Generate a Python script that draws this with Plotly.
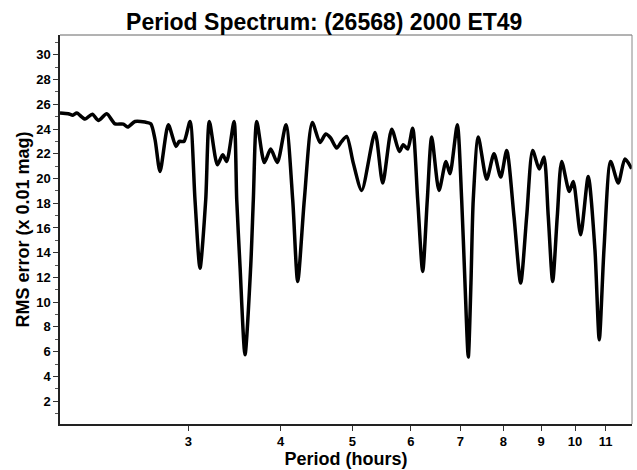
import plotly.graph_objects as go
import numpy as np

# Period (hours) and RMS error (x 0.01 mag)
period = [2.012, 2.065, 2.094, 2.120, 2.175, 2.225, 2.267, 2.327, 2.388, 2.450,
          2.484, 2.541, 2.621, 2.669, 2.705, 2.747, 2.819, 2.887, 2.917, 2.960,
          3.016, 3.063, 3.111, 3.167, 3.203, 3.284, 3.339, 3.381, 3.459, 3.488,
          3.524, 3.579, 3.643, 3.673, 3.712, 3.801, 3.877, 3.958, 4.066, 4.152,
          4.217, 4.305, 4.413, 4.520, 4.601, 4.673, 4.761, 4.836, 4.912, 5.014,
          5.147, 5.365, 5.495, 5.651, 5.786, 5.858, 5.939, 6.032, 6.127, 6.223,
          6.313, 6.400, 6.547, 6.691, 6.775, 6.931, 7.026, 7.099, 7.172, 7.232,
          7.284, 7.399, 7.595, 7.770, 7.934, 8.083, 8.269, 8.443, 8.602, 8.764,
          8.946, 9.078, 9.200, 9.327, 9.462, 9.592, 9.822, 9.945, 10.176, 10.420,
          10.639, 10.783, 10.942, 11.172, 11.439, 11.680, 11.927]
rms = [25.29, 25.23, 25.12, 25.29, 24.80, 25.20, 24.69, 25.23, 24.42, 24.40,
       24.16, 24.61, 24.56, 24.42, 23.13, 20.57, 24.34, 22.59, 23.00, 23.00,
       24.61, 18.28, 12.75, 18.28, 24.61, 21.11, 21.92, 21.38, 24.61, 18.28,
       12.89, 5.75, 12.89, 18.28, 24.61, 21.29, 22.38, 21.29, 24.34, 18.28,
       11.67, 18.28, 24.53, 22.91, 23.59, 23.27, 22.46, 23.00, 23.40, 21.24,
       19.03, 23.72, 19.63, 23.99, 22.18, 22.72, 22.38, 24.07, 18.28, 12.48,
       18.28, 23.35, 19.03, 21.38, 20.38, 24.34, 18.28, 11.54, 5.56, 11.54,
       18.28, 23.35, 19.95, 22.00, 20.11, 22.26, 16.93, 11.54, 16.93, 22.26,
       20.76, 21.73, 16.93, 11.67, 16.93, 21.38, 18.95, 19.76, 15.45, 20.16,
       14.24, 6.96, 14.24, 21.38, 19.63, 21.57, 20.80]

x_ticks = [3, 4, 5, 6, 7, 8, 9, 10, 11]
y_ticks = list(range(2, 31, 2))

title_text = "Period Spectrum: (26568) 2000 ET49"
x_title = "Period (hours)"
y_title = "RMS error (x 0.01 mag)"

FONT = "Liberation Sans, Arial, sans-serif"

fig = go.Figure()
fig.add_trace(go.Scatter(
    x=period, y=rms, mode="lines",
    line=dict(color="black", width=3.5, shape="spline", smoothing=0.7),
    hoverinfo="skip", showlegend=False,
))

fig.update_layout(
    width=637, height=470,
    margin=dict(l=60, r=5, t=35, b=46),
    paper_bgcolor="white", plot_bgcolor="white",
    title=dict(text=title_text, x=0.509, xanchor="center", y=0.953, yanchor="middle",
               font=dict(family=FONT, size=23, color="black", weight="bold")),
    showlegend=False,
)
fig.update_xaxes(
    type="log", range=[np.log10(2.012), np.log10(11.94)],
    tickvals=x_ticks, ticktext=[str(v) for v in x_ticks],
    ticks="outside", ticklen=5, tickcolor="#333", tickwidth=1,
    showline=True, linecolor="#222", linewidth=1.5, mirror=False,
    showgrid=False, zeroline=False,
    tickfont=dict(family=FONT, size=13, color="black", weight="bold"),
    title=dict(text=x_title, standoff=3,
               font=dict(family=FONT, size=18, color="black", weight="bold")),
)
fig.update_yaxes(
    range=[0.15, 31.6],
    tickvals=y_ticks,
    ticks="outside", ticklen=5, tickcolor="#333", tickwidth=1,
    minor=dict(dtick=1, ticks="outside", ticklen=3, tickcolor="#555"),
    showline=True, linecolor="#222", linewidth=1.5, mirror=False,
    showgrid=False, zeroline=False,
    tickfont=dict(family=FONT, size=13, color="black", weight="bold"),
    title=dict(text=y_title, standoff=2,
               font=dict(family=FONT, size=18, color="black", weight="bold")),
)
# top and right frame lines
fig.add_shape(type="line", xref="paper", yref="paper", x0=0, x1=1, y0=1, y1=1,
              line=dict(color="#666", width=1))
fig.add_shape(type="line", xref="paper", yref="paper", x0=1, x1=1, y0=0, y1=1,
              line=dict(color="#888", width=1))

fig.write_html("out.html", config={"displayModeBar": False},
               post_script="document.body.style.margin='0';")
